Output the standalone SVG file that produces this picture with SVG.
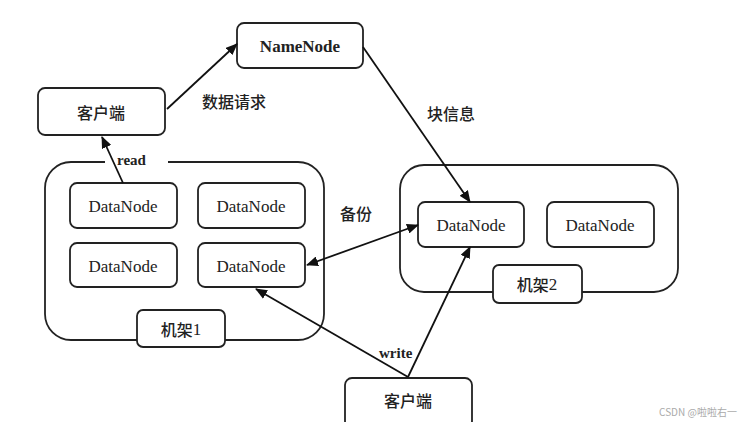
<svg xmlns="http://www.w3.org/2000/svg" width="750" height="422" viewBox="0 0 750 422">
<defs>
<marker id="ah" viewBox="0 0 12 10" refX="11" refY="5" markerWidth="12" markerHeight="10" markerUnits="userSpaceOnUse" orient="auto-start-reverse">
<path d="M0,0 L12,5 L0,10 z" fill="#111"/>
</marker>
<style>
.box{fill:#fff;stroke:#222;stroke-width:1.8}
.rack{fill:#fff;stroke:#222;stroke-width:1.8}
.en{font-family:"Liberation Serif",serif;font-size:17px;fill:#222;text-anchor:middle;dominant-baseline:central}
.bd{font-family:"Liberation Serif",serif;font-size:15px;font-weight:bold;fill:#222}
.zh{font-family:"Noto Sans CJK SC",sans-serif;font-size:16px;font-weight:500;fill:#222;text-anchor:middle;dominant-baseline:central}
.num{font-family:"Liberation Serif",serif;font-size:17px;font-weight:normal}
.ln{stroke:#111;stroke-width:1.8;fill:none}
</style>
</defs>
<rect width="750" height="422" fill="#fff"/>
<g id="rack1">
<rect class="rack" x="45" y="162" width="279" height="178" rx="26"/>
<rect x="105" y="158" width="63" height="8" fill="#fff"/>
</g>
<g id="rack2">
<rect class="rack" x="400" y="165" width="278" height="127" rx="24"/>
</g>
<g id="namenode">
<rect class="box" x="237" y="23" width="126" height="45" rx="7"/>
<text class="en" x="300" y="46" font-weight="bold" font-size="15">NameNode</text>
</g>
<g id="client-top">
<rect class="box" x="38" y="88" width="127" height="47" rx="7"/>
<text class="zh" x="101" y="112">客户端</text>
</g>
<g id="dn1">
<rect class="box" x="70" y="183" width="107" height="45" rx="7"/>
<text class="en" x="123" y="206">DataNode</text>
</g>
<g id="dn2">
<rect class="box" x="198" y="183" width="107" height="45" rx="7"/>
<text class="en" x="251" y="206">DataNode</text>
</g>
<g id="dn3">
<rect class="box" x="70" y="243" width="107" height="44" rx="7"/>
<text class="en" x="123" y="266">DataNode</text>
</g>
<g id="dn4">
<rect class="box" x="198" y="243" width="107" height="44" rx="7"/>
<text class="en" x="251" y="266">DataNode</text>
</g>
<g id="rack1-label">
<rect class="box" x="137" y="310" width="88" height="37" rx="6"/>
<text class="zh" x="181" y="329">机架<tspan class="num">1</tspan></text>
</g>
<g id="dn5">
<rect class="box" x="418" y="202" width="106" height="45" rx="7"/>
<text class="en" x="471" y="225">DataNode</text>
</g>
<g id="dn6">
<rect class="box" x="547" y="202" width="107" height="45" rx="7"/>
<text class="en" x="600" y="225">DataNode</text>
</g>
<g id="rack2-label">
<rect class="box" x="493" y="265" width="89" height="38" rx="6"/>
<text class="zh" x="537" y="284">机架<tspan class="num">2</tspan></text>
</g>
<g id="client-bottom">
<rect class="box" x="345" y="378" width="127" height="50" rx="7"/>
<text class="zh" x="408" y="400">客户端</text>
</g>
<g id="connectors">
<line class="ln" x1="167" y1="109" x2="237" y2="44" marker-end="url(#ah)"/>
<line class="ln" x1="363" y1="47" x2="470" y2="202" marker-end="url(#ah)"/>
<line class="ln" x1="123" y1="183" x2="102" y2="137" marker-end="url(#ah)"/>
<line class="ln" x1="307" y1="265" x2="418" y2="225" marker-start="url(#ah)" marker-end="url(#ah)"/>
<line class="ln" x1="408" y1="377" x2="256" y2="289" marker-end="url(#ah)"/>
<line class="ln" x1="408" y1="377" x2="470" y2="247" marker-end="url(#ah)"/>
</g>
<g id="labels">
<text class="zh" x="234" y="101">数据请求</text>
<text class="zh" x="451" y="113">块信息</text>
<text class="zh" x="356" y="213">备份</text>
<text class="bd" x="117" y="165">read</text>
<text class="bd" x="379" y="358">write</text>
<text x="698" y="411" font-family="'Noto Sans CJK SC',sans-serif" font-size="10" fill="#aaa" text-anchor="middle" dominant-baseline="central">CSDN @啦啦右一</text>
</g>
</svg>
